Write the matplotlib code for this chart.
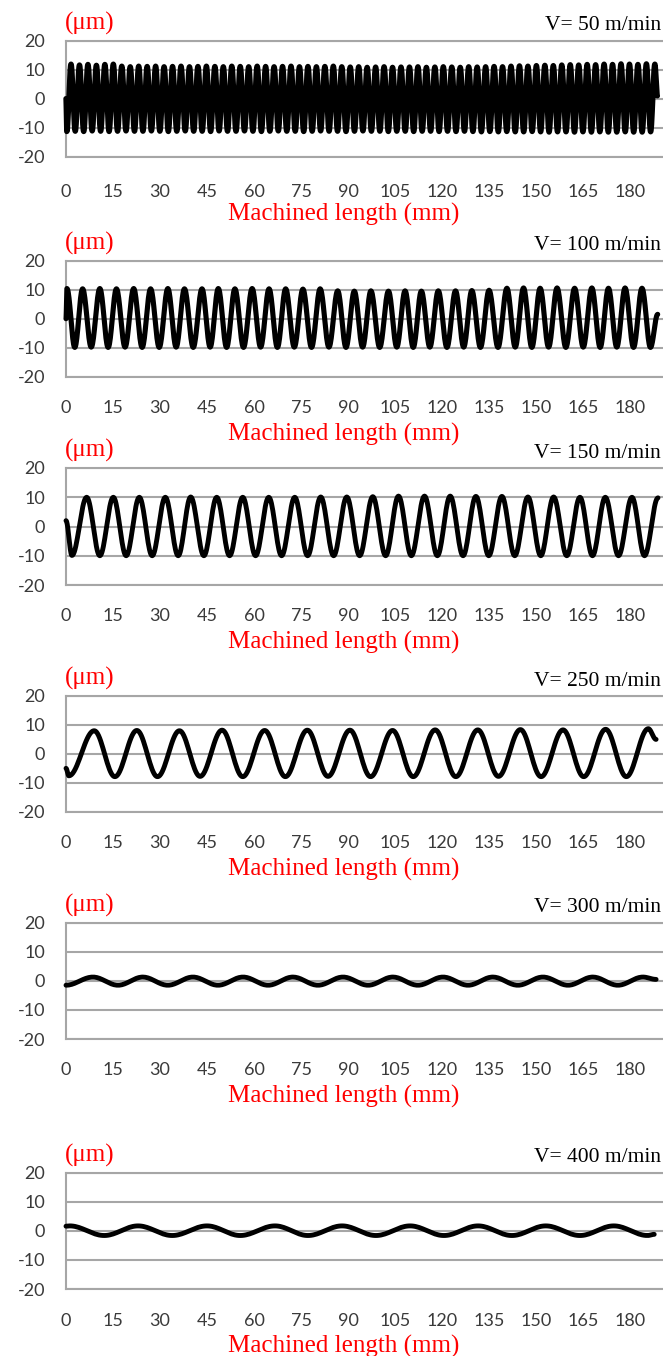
import numpy as np
import matplotlib.pyplot as plt

# ------------------------------------------------------------
# Values (x in mm, y in um)
# ------------------------------------------------------------
SPEED_LABELS = ["V= 50 m/min", "V= 100 m/min", "V= 150 m/min",
                "V= 250 m/min", "V= 300 m/min", "V= 400 m/min"]
X_TICKS = [0, 15, 30, 45, 60, 75, 90, 105, 120, 135, 150, 165, 180]
Y_TICKS = [-20, -10, 0, 10, 20]

# V = 50 m/min
V50_ENDS = [(0.0, 0.0), (188.7, 1.0)]
V50_PEAK_X = [1.6, 4.3, 7.0, 9.7, 12.4, 15.1, 17.8, 20.5, 23.2, 25.9,
              28.6, 31.3, 34.0, 36.7, 39.4, 42.1, 44.8, 47.5, 50.2, 52.9,
              55.6, 58.3, 61.0, 63.7, 66.4, 69.1, 71.8, 74.5, 77.2, 79.9,
              82.6, 85.3, 88.0, 90.7, 93.4, 96.1, 98.8, 101.5, 104.2, 106.9,
              109.6, 112.3, 115.0, 117.7, 120.4, 123.1, 125.8, 128.5, 131.2, 133.9,
              136.6, 139.3, 142.0, 144.7, 147.4, 150.1, 152.8, 155.5, 158.2, 160.9,
              163.6, 166.3, 169.0, 171.7, 174.4, 177.1, 179.8, 182.5, 185.2, 187.9]
V50_PEAK_Y = [11.9, 11.6, 11.8, 11.5, 11.8, 11.9, 11.2, 11.0, 11.2, 11.1,
              11.2, 11.0, 11.1, 11.2, 11.0, 11.1, 11.2, 11.1, 11.0, 11.2,
              11.1, 11.0, 11.2, 11.1, 11.0, 11.1, 11.2, 11.0, 11.1, 11.0,
              11.1, 11.2, 11.0, 10.9, 11.0, 10.8, 10.9, 11.0, 10.8, 10.9,
              10.9, 11.0, 10.8, 10.9, 11.0, 10.9, 10.8, 11.0, 10.9, 11.0,
              11.1, 11.0, 11.2, 11.3, 11.2, 11.4, 11.5, 11.4, 11.6, 11.7,
              11.6, 11.8, 11.7, 11.9, 11.8, 12.0, 11.9, 11.8, 12.0, 11.9]
V50_TROUGH_X = [0.25, 2.95, 5.65, 8.35, 11.05, 13.75, 16.45, 19.15, 21.85, 24.55,
                27.25, 29.95, 32.65, 35.35, 38.05, 40.75, 43.45, 46.15, 48.85, 51.55,
                54.25, 56.95, 59.65, 62.35, 65.05, 67.75, 70.45, 73.15, 75.85, 78.55,
                81.25, 83.95, 86.65, 89.35, 92.05, 94.75, 97.45, 100.15, 102.85, 105.55,
                108.25, 110.95, 113.65, 116.35, 119.05, 121.75, 124.45, 127.15, 129.85, 132.55,
                135.25, 137.95, 140.65, 143.35, 146.05, 148.75, 151.45, 154.15, 156.85, 159.55,
                162.25, 164.95, 167.65, 170.35, 173.05, 175.75, 178.45, 181.15, 183.85, 186.55]
V50_TROUGH_Y = [-11.3, -11.2, -11.3, -11.1, -11.2, -11.3, -11.2, -11.1, -11.2, -11.2,
                -11.1, -11.2, -11.3, -11.2, -11.1, -11.2, -11.2, -11.3, -11.1, -11.2,
                -11.2, -11.1, -11.2, -11.3, -11.2, -11.1, -11.2, -11.2, -11.3, -11.2,
                -11.1, -11.2, -11.2, -11.3, -11.2, -11.1, -11.2, -11.2, -11.3, -11.2,
                -11.2, -11.3, -11.2, -11.2, -11.3, -11.2, -11.3, -11.2, -11.3, -11.4,
                -11.3, -11.4, -11.3, -11.4, -11.4, -11.3, -11.4, -11.5, -11.4, -11.4,
                -11.5, -11.4, -11.5, -11.4, -11.5, -11.5, -11.4, -11.5, -11.5, -11.4]

# V = 100 m/min
V100_ENDS = [(0.0, 0.0), (188.8, 1.5)]
V100_PEAK_X = [0.3, 5.3, 10.8, 16.1, 21.6, 27.0, 32.5, 37.8, 43.4, 48.6,
               53.9, 59.4, 64.8, 70.1, 75.6, 81.1, 86.7, 92.0, 97.3, 102.9,
               108.2, 113.4, 118.8, 124.3, 129.5, 135.0, 140.7, 146.0, 151.3, 156.7,
               162.3, 167.8, 173.1, 178.4, 183.8]
V100_PEAK_Y = [10.4, 10.3, 10.4, 10.3, 10.4, 10.3, 10.4, 10.3, 10.3, 10.4,
               10.3, 10.4, 10.3, 10.3, 10.2, 10.3, 9.6, 9.5, 9.6, 9.5,
               9.6, 9.5, 9.6, 9.6, 9.7, 9.8, 10.5, 10.6, 10.5, 10.6,
               10.5, 10.6, 10.5, 10.6, 10.5]
V100_TROUGH_X = [2.8, 8.05, 13.45, 18.85, 24.3, 29.75, 35.15, 40.6, 46.0, 51.25,
                 56.65, 62.1, 67.45, 72.85, 78.35, 83.9, 89.35, 94.65, 100.1, 105.55,
                 110.8, 116.1, 121.55, 126.9, 132.25, 137.85, 143.35, 148.65, 154.0, 159.5,
                 165.05, 170.45, 175.75, 181.1, 186.5]
V100_TROUGH_Y = [-9.9, -9.8, -9.9, -9.8, -9.9, -9.9, -9.8, -9.9, -9.8, -9.9,
                 -9.9, -9.8, -9.9, -9.8, -9.9, -9.8, -9.9, -9.8, -9.9, -9.8,
                 -9.9, -9.8, -9.9, -9.8, -9.9, -9.9, -9.8, -9.9, -9.8, -9.9,
                 -9.8, -9.9, -9.8, -9.9, -9.9]

# V = 150 m/min
V150_ENDS = [(0.0, 2.0), (188.9, 9.8)]
V150_PEAK_X = [6.6, 15.1, 23.4, 31.7, 39.8, 48.1, 56.4, 64.7, 73.0, 81.3,
               89.6, 97.9, 106.1, 114.4, 122.6, 130.8, 139.1, 147.4, 155.6, 164.0,
               172.1, 180.6]
V150_PEAK_Y = [10.0, 10.0, 10.0, 10.0, 10.1, 10.0, 10.0, 10.0, 10.0, 10.1,
               10.1, 10.2, 10.4, 10.4, 10.4, 10.3, 10.3, 10.1, 10.1, 10.0,
               10.0, 10.0]
V150_TROUGH_X = [1.9, 10.8, 19.2, 27.5, 35.8, 44.0, 52.2, 60.5, 68.8, 77.1,
                 85.4, 93.7, 102.0, 110.2, 118.5, 126.7, 134.9, 143.2, 151.5, 159.8,
                 168.0, 176.3, 184.6]
V150_TROUGH_Y = [-9.9, -10.0, -10.0, -10.0, -10.0, -10.0, -10.0, -10.0, -10.0, -10.0,
                 -10.0, -10.0, -10.0, -10.0, -10.0, -10.0, -10.0, -10.0, -10.0, -10.0,
                 -10.0, -10.0, -10.0]

# V = 250 m/min
V250_ENDS = [(0.0, -5.0), (188.3, 5.0)]
V250_PEAK_X = [9.0, 22.6, 36.2, 49.8, 63.4, 77.0, 90.6, 104.2, 117.8, 131.4,
               145.0, 158.6, 172.2, 185.8]
V250_PEAK_Y = [8.0, 8.1, 8.0, 8.2, 8.1, 8.2, 8.2, 8.1, 8.3, 8.3,
               8.4, 8.3, 8.5, 8.7]
V250_TROUGH_X = [0.9, 15.6, 29.2, 42.8, 56.4, 70.0, 83.6, 97.2, 110.8, 124.4,
                 138.0, 151.6, 165.2, 178.8]
V250_TROUGH_Y = [-7.6, -7.9, -7.9, -7.8, -7.9, -7.9, -7.8, -7.9, -7.9, -7.9,
                 -7.8, -7.9, -7.9, -7.9]

# V = 300 m/min
V300_ENDS = [(0.0, -1.5), (188.3, 0.5)]
V300_PEAK_X = [8.6, 24.5, 40.5, 56.5, 72.4, 88.4, 104.3, 120.3, 136.2, 152.2,
               168.1, 184.1]
V300_PEAK_Y = [1.3, 1.3, 1.3, 1.3, 1.3, 1.3, 1.3, 1.3, 1.3, 1.3, 1.3, 1.3]
V300_TROUGH_X = [16.6, 32.5, 48.5, 64.5, 80.4, 96.4, 112.3, 128.3, 144.2, 160.2,
                 176.1]
V300_TROUGH_Y = [-1.5, -1.5, -1.5, -1.5, -1.5, -1.5, -1.5, -1.5, -1.5, -1.5, -1.5]

# V = 400 m/min
V400_ENDS = [(0.0, 1.6), (187.7, -1.2)]
V400_PEAK_X = [1.2, 23.0, 45.0, 66.7, 88.1, 109.8, 131.5, 153.1, 174.8]
V400_PEAK_Y = [1.7, 1.7, 1.7, 1.7, 1.7, 1.7, 1.7, 1.7, 1.7]
V400_TROUGH_X = [12.2, 33.9, 55.6, 77.2, 98.9, 120.6, 142.3, 164.0, 185.6]
V400_TROUGH_Y = [-1.6, -1.6, -1.6, -1.6, -1.6, -1.6, -1.6, -1.6, -1.6]

SERIES = [
    (V50_ENDS, V50_PEAK_X, V50_PEAK_Y, V50_TROUGH_X, V50_TROUGH_Y),
    (V100_ENDS, V100_PEAK_X, V100_PEAK_Y, V100_TROUGH_X, V100_TROUGH_Y),
    (V150_ENDS, V150_PEAK_X, V150_PEAK_Y, V150_TROUGH_X, V150_TROUGH_Y),
    (V250_ENDS, V250_PEAK_X, V250_PEAK_Y, V250_TROUGH_X, V250_TROUGH_Y),
    (V300_ENDS, V300_PEAK_X, V300_PEAK_Y, V300_TROUGH_X, V300_TROUGH_Y),
    (V400_ENDS, V400_PEAK_X, V400_PEAK_Y, V400_TROUGH_X, V400_TROUGH_Y),
]

# ------------------------------------------------------------
# Layout (pixels in a 663 x 1356 canvas)
# ------------------------------------------------------------
W, H = 663, 1356
AX_LEFT = 66
AX_TOP = [40.7, 260.7, 468, 696, 922.7, 1172.7]
AX_BOTTOM = [156.7, 376.7, 585, 811.7, 1039, 1289]
XTICK_PAD = [19.5, 16.6, 16.6, 16.6, 16.6, 17.0]
LINE_W = [3.9, 3.7, 3.5, 3.5, 3.5, 3.5]
X_MAX = 190.5
GRID_COLOR = '#a6a6a6'
TEXT_GRAY = '#3a3a3a'
SERIF = ['Liberation Serif', 'DejaVu Serif']

plt.rcParams['font.family'] = ['Lato', 'DejaVu Sans']
plt.rcParams['axes.unicode_minus'] = False


def smooth_trace(ends, px, py, tx, ty, n=20):
    # join the read extremes with smooth half-waves
    pts = [ends[0]] + list(zip(px, py)) + list(zip(tx, ty)) + [ends[1]]
    pts.sort(key=lambda p: p[0])
    xs = [pts[0][0]]
    ys = [pts[0][1]]
    t = np.linspace(0, 1, n)[1:]
    ease = (1 - np.cos(np.pi * t)) / 2
    for (x0, y0), (x1, y1) in zip(pts[:-1], pts[1:]):
        xs.extend(x0 + (x1 - x0) * t)
        ys.extend(y0 + (y1 - y0) * ease)
    return np.array(xs), np.array(ys)


fig = plt.figure(figsize=(W / 100, H / 100), dpi=100)

for i, (label, data) in enumerate(zip(SPEED_LABELS, SERIES)):
    rect = [AX_LEFT / W, 1 - AX_BOTTOM[i] / H,
            (W - AX_LEFT) / W, (AX_BOTTOM[i] - AX_TOP[i]) / H]
    ax = fig.add_axes(rect)

    x, y = smooth_trace(*data)
    ax.plot(x, y, color='black', lw=LINE_W[i],
            solid_capstyle='round', solid_joinstyle='round', clip_on=False, zorder=3)

    ax.set_xlim(0, X_MAX)
    ax.set_ylim(-20, 20)
    ax.set_xticks(X_TICKS)
    ax.set_xticklabels([str(v) for v in X_TICKS])
    ax.set_yticks(Y_TICKS)
    ax.set_yticklabels([str(v) for v in Y_TICKS])
    ax.tick_params(axis='both', length=0, labelsize=13, labelcolor=TEXT_GRAY)
    ax.tick_params(axis='x', pad=XTICK_PAD[i])
    ax.tick_params(axis='y', pad=15)

    ax.grid(axis='y', color=GRID_COLOR, lw=1.5)
    ax.set_axisbelow(True)
    for side in ['top', 'bottom', 'left']:
        ax.spines[side].set_color(GRID_COLOR)
        ax.spines[side].set_linewidth(1.5)
    ax.spines['right'].set_visible(False)

    ax.annotate('(\u03bcm)', xy=(0, 1), xycoords='axes fraction',
                xytext=(-1, 6), textcoords='offset pixels',
                ha='left', va='bottom', color='red', fontsize=18, family=SERIF)
    ax.annotate(label, xy=(1, 1), xycoords='axes fraction',
                xytext=(-2, 5.5), textcoords='offset pixels',
                ha='right', va='bottom', color='black', fontsize=15.5, family=SERIF)
    ax.annotate('Machined length (mm)', xy=(88.7, 0),
                xycoords=('data', 'axes fraction'),
                xytext=(0, -46), textcoords='offset pixels',
                ha='center', va='top', color='red', fontsize=18, family=SERIF)

fig.savefig('out.png', dpi=100)
